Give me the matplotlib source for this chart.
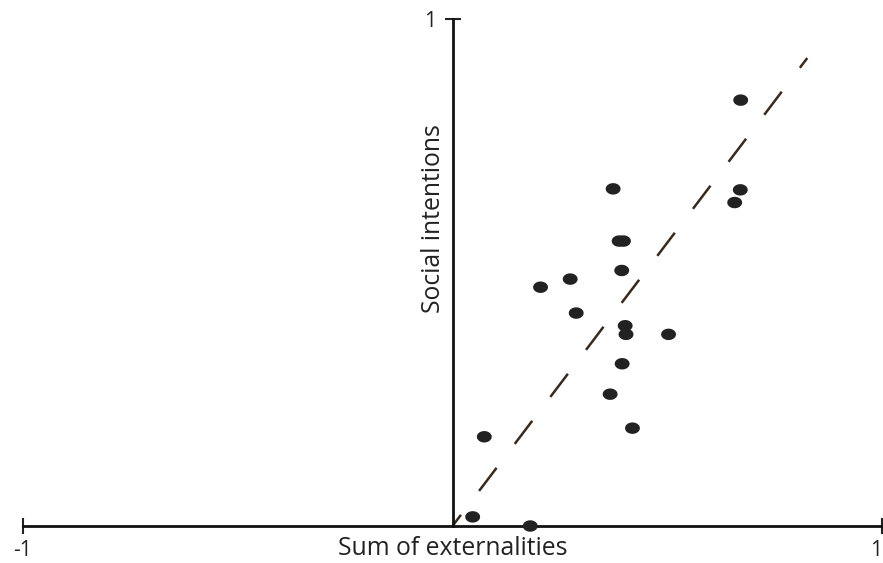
import matplotlib
matplotlib.use("Agg")
import matplotlib.pyplot as plt
import numpy as np
from matplotlib.path import Path

# Data
ext = [0.047, 0.181, 0.074, 0.367, 0.419, 0.374, 0.670, 0.657, 0.388, 0.398,
       0.394, 0.274, 0.205, 0.288, 0.402, 0.404, 0.503, 0.395, 0.671]
soc = [0.018, 0.000, 0.176, 0.260, 0.193, 0.665, 0.663, 0.638, 0.562, 0.562,
       0.504, 0.487, 0.471, 0.420, 0.395, 0.378, 0.378, 0.320, 0.840]
fit_x = [0.0, 0.826]
fit_y = [0.0, 0.923]
xticks = [-1, 1]
xticklabels = ["-1", "1"]
yticks = [1]
yticklabels = ["1"]

plt.rcParams['font.family'] = ['Open Sans', 'DejaVu Sans']

fig = plt.figure(figsize=(8.83, 5.63), dpi=100)
ax = fig.add_axes([23/883, 37/563, 859/883, 507/563])
ax.set_xlim(-1, 1)
ax.set_ylim(0, 1)

# Ellipse marker
t = np.linspace(0, 2*np.pi, 40)
ell = Path(np.column_stack([1.3*np.cos(t), np.sin(t)]), closed=True)

# dashed fit line: ~29 px on, ~30 px off, first dash partial (~14 px)
lw = 1.8
px2pt = 72 / 100
on, off, offset = 29 * px2pt / lw, 30 * px2pt / lw, 15 * px2pt / lw
ax.plot(fit_x, fit_y, color='#3a2a1e', lw=lw, dash_capstyle='butt',
        linestyle=(offset, (on, off)), zorder=2)

ax.scatter(ext, soc, marker=ell, s=115, color='#222222', edgecolors='none', zorder=3, clip_on=False)

for s in ['right', 'top']:
    ax.spines[s].set_visible(False)
ax.spines['left'].set_position(('data', 0))
ax.spines['bottom'].set_position(('data', 0))
for s in ['left', 'bottom']:
    ax.spines[s].set_linewidth(2.0)
    ax.spines[s].set_color('#111111')

ax.set_xticks(xticks)
ax.set_xticklabels(xticklabels)
ax.set_yticks(yticks)
ax.set_yticklabels(yticklabels)
ax.tick_params(axis='both', direction='inout', length=12, width=1.5, color='#222222',
               labelsize=15, labelcolor='#222222')
ax.tick_params(axis='x', pad=4)
ax.tick_params(axis='y', pad=6)
ax.get_xticklabels()[-1].set_horizontalalignment('right')

ax.text(0, -0.044, "Sum of externalities", ha='center', va='center', fontsize=17.8, color='#222222')
ax.text(-0.045, 0.607, "Social intentions", ha='center', va='center', rotation=90, fontsize=17.8, color='#222222')

fig.savefig("out.png", dpi=100)
